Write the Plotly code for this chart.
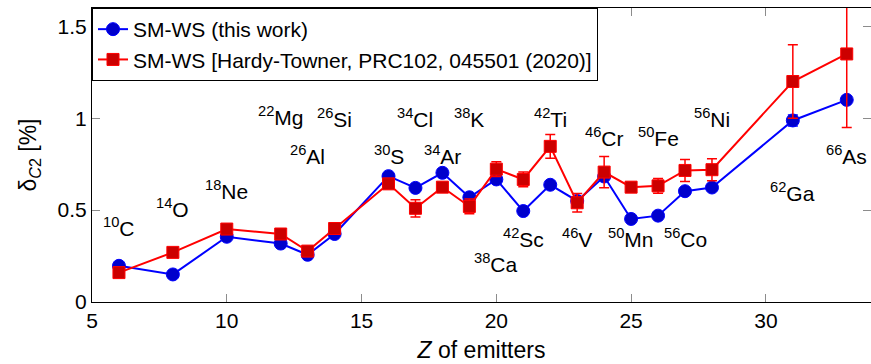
import plotly.graph_objects as go

# Proton number of each superallowed emitter
z_this = [6, 8, 10, 12, 13, 14, 16, 17, 18, 19, 20, 21, 22, 23, 24, 25, 26, 27, 28, 31, 33]
dc2_this = [0.197, 0.150, 0.355, 0.318, 0.257, 0.37, 0.685, 0.621, 0.703, 0.57, 0.667,
            0.495, 0.638, 0.55, 0.683, 0.452, 0.47, 0.603, 0.623, 0.988, 1.10]
err_this = [0, 0, 0, 0, 0, 0, 0, 0, 0, 0, 0, 0, 0, 0, 0, 0, 0, 0, 0, 0.03, 0]

z_ht = [6, 8, 10, 12, 13, 14, 16, 17, 18, 19, 20, 21, 22, 23, 24, 25, 26, 27, 28, 31, 33]
dc2_ht = [0.160, 0.27, 0.397, 0.37, 0.277, 0.40, 0.643, 0.51, 0.625, 0.52, 0.723,
          0.667, 0.847, 0.54, 0.707, 0.625, 0.632, 0.716, 0.72, 1.20, 1.35]
err_ht = [0.01, 0.01, 0.01, 0.01, 0.01, 0.01, 0.02, 0.047, 0.02, 0.04, 0.04,
          0.04, 0.065, 0.05, 0.085, 0.01, 0.04, 0.06, 0.06, 0.20, 0.40]

# Nuclide labels: (mass number, symbol, Z, label height)
nuclides = [
    ("10", "C", 6, 0.41), ("14", "O", 8, 0.51), ("18", "Ne", 10, 0.61),
    ("22", "Mg", 12, 1.01), ("26", "Al", 13, 0.80), ("26", "Si", 14, 1.00),
    ("30", "S", 16, 0.80), ("34", "Cl", 17, 1.00), ("34", "Ar", 18, 0.80),
    ("38", "K", 19, 1.00), ("38", "Ca", 20, 0.21), ("42", "Sc", 21, 0.35),
    ("42", "Ti", 22, 1.00), ("46", "V", 23, 0.35), ("46", "Cr", 24, 0.90),
    ("50", "Mn", 25, 0.35), ("50", "Fe", 26, 0.90), ("56", "Co", 27, 0.35),
    ("56", "Ni", 28, 1.00), ("62", "Ga", 31, 0.60), ("66", "As", 33, 0.80),
]

FONT = "Liberation Sans, Arial, Helvetica, sans-serif"

fig = go.Figure()
fig.add_trace(go.Scatter(
    x=z_this, y=dc2_this, mode="lines+markers", name="SM-WS (this work)",
    legendgroup="a",
    line=dict(color="#0000ff", width=2),
    marker=dict(symbol="circle", size=13, color="#0000cc", line=dict(color="#0000ff", width=1)),
    error_y=dict(type="data", array=err_this, color="#0000ff", thickness=1.5, width=5),
))
fig.add_trace(go.Scatter(
    x=z_ht, y=dc2_ht, mode="lines+markers",
    name="SM-WS [Hardy-Towner, PRC102, 045501 (2020)]",
    legendgroup="b",
    line=dict(color="#ff0000", width=2),
    marker=dict(symbol="square", size=12, color="#cc0000", line=dict(color="#ff0000", width=1)),
    error_y=dict(type="data", array=err_ht, color="#ff0000", thickness=1.5, width=5),
))

for a, sym, z, yl in nuclides:
    fig.add_annotation(x=z, y=yl, xref="x", yref="y", showarrow=False,
                       text=f"<sup>{a}</sup>{sym}",
                       font=dict(family=FONT, size=21, color="black"))

axis_common = dict(
    showline=True, linecolor="black", linewidth=1, mirror="ticks",
    ticks="inside", ticklen=8, tickcolor="#8c8c8c", tickwidth=1,
    showgrid=False, zeroline=False, automargin=True,
    tickfont=dict(family=FONT, size=21, color="black"),
)

fig.update_layout(
    template="none",
    width=871, height=364,
    margin=dict(l=92, r=0, t=8, b=62),
    paper_bgcolor="white", plot_bgcolor="white",
    font=dict(family=FONT, color="black"),
    xaxis=dict(range=[5, 33.9], tickvals=[5, 10, 15, 20, 25, 30],
               title=dict(text="<i>Z</i> of emitters", font=dict(family=FONT, size=23), standoff=10),
               **axis_common),
    yaxis=dict(range=[0, 1.6], tickvals=[0, 0.5, 1, 1.5],
               title=dict(text="δ<sub><i>C</i>2</sub> [%]", font=dict(family=FONT, size=23), standoff=14),
               **axis_common),
    legend=dict(x=0, y=1, xanchor="left", yanchor="top",
                bordercolor="black", borderwidth=1, bgcolor="white",
                font=dict(family=FONT, size=21), tracegroupgap=0),
    showlegend=True,
)

fig.write_html("out.html")
